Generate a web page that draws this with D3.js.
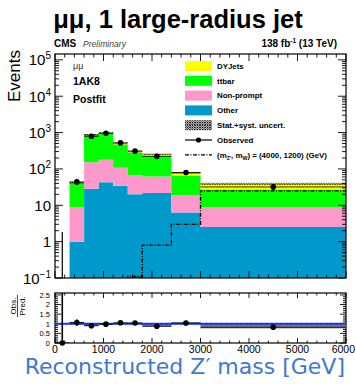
<!DOCTYPE html>
<html><head><meta charset="utf-8">
<script src="https://cdn.jsdelivr.net/npm/d3@7"></script>
<style>body{margin:0;background:#fff}svg{display:block}</style>
</head><body>
<script>
// Reconstructed Z' mass bins (GeV)
const binEdges  = [0, 300, 600, 900, 1200, 1500, 1800, 2400, 3000, 6000];
// Postfit background yields per bin
const otherBkg  = [0, 1.0, 28.7, 43, 34.7, 20, 21.7, 6.3, 2.54];
const nonPrompt = [0, 8.0, 124, 136, 73, 48, 40, 12.5, 6.5];
const ttbar     = [0, 32, 712, 776, 362, 217, 172, 47, 18];
const dyJets    = [0, 0.5, 15, 20, 30, 15, 21, 11, 12];
// Relative stat.+syst. uncertainty on the total prediction
const bkgUnc    = [0, 0.05, 0.04, 0.04, 0.04, 0.04, 0.04, 0.05, 0.06];
// Observed events
const observed  = [0, 44, 792, 955, 525, 312, 222, 80, 32];
// Signal (m_Z', m_W) = (4000, 1200) GeV
const signal    = [0, 0, 0, 0, 0, 0.11, 0.8, 3.0, 25];
// Uncertainty band in the ratio panel
const ratioBandLo = [null, 0.97, 0.88, 0.96, 0.97, 0.97, 0.85, 0.98, 0.76];
const ratioBandHi = [null, 1.10, 1.00, 1.02, 1.04, 1.05, 0.98, 1.06, 0.99];

const yDecades = [-1, 0, 1, 2, 3, 4, 5];
const xTickLabels = [0, 1000, 2000, 3000, 4000, 5000, 6000];
const ratioTickLabels = ["0", "0.5", "1", "1.5", "2", "2.5"];

const legendItems = [
  {label: "DYJets", kind: "box", color: "#ffff00"},
  {label: "ttbar", kind: "box", color: "#00ff00"},
  {label: "Non-prompt", kind: "box", color: "#ff99cc"},
  {label: "Other", kind: "box", color: "#0099cc"},
  {label: "Stat.+syst. uncert.", kind: "hatch"},
  {label: "Observed", kind: "data"},
  {label: "signal", kind: "signal"}
];

const W = 356, H = 384;
const FONT = "'Liberation Sans', Arial, Helvetica, sans-serif";
const svg = d3.select("body").append("svg").attr("width", W).attr("height", H)
  .style("font-family", FONT);

const M = {l: 55, r: 346, t: 54, b: 278};
const R = {t: 293, b: 343};
const yMin = 0.1;

const x = d3.scaleLinear().domain([0, 6000]).range([M.l, M.r]);
const y = d3.scaleLog().domain([yMin, 1.45e5]).range([M.b, M.t]).clamp(true);
const yv = v => y(Math.max(v, yMin));
const yr = d3.scaleLinear().domain([0, 2.6]).range([R.b, R.t]);

const defs = svg.append("defs");
defs.append("clipPath").attr("id", "clipMain").append("rect")
  .attr("x", M.l).attr("y", M.t).attr("width", M.r - M.l).attr("height", M.b - M.t);
defs.append("clipPath").attr("id", "clipRatio").append("rect")
  .attr("x", M.l).attr("y", R.t).attr("width", M.r - M.l).attr("height", R.b - R.t);
const pat = defs.append("pattern").attr("id", "hatch").attr("patternUnits", "userSpaceOnUse")
  .attr("width", 2.5).attr("height", 2.5);
pat.append("path").attr("d", "M0,0L2.5,2.5M2.5,0L0,2.5").attr("stroke", "#000").attr("stroke-width", 0.8);

const nBins = binEdges.length - 1;
const bins = d3.range(nBins).map(i => ({
  i, x0: binEdges[i], x1: binEdges[i + 1], xc: (binEdges[i] + binEdges[i + 1]) / 2,
  other: otherBkg[i], nonprompt: nonPrompt[i], ttbar: ttbar[i], dy: dyJets[i]
}));
const keys = ["other", "nonprompt", "ttbar", "dy"];
const colors = {other: "#0099cc", nonprompt: "#ff99cc", ttbar: "#00ff00", dy: "#ffff00"};
const series = d3.stack().keys(keys)(bins);
const total = bins.map(b => keys.reduce((s, k) => s + b[k], 0));

// ---------- main panel ----------
const gMain = svg.append("g").attr("clip-path", "url(#clipMain)");
// each stacked component drawn as one step-shaped area
const stepArea = d3.area().x(p => p[0]).y0(p => p[1]).y1(p => p[2]);
series.forEach(s => {
  const pts = [];
  s.forEach(d => {
    pts.push([x(d.data.x0), yv(d[0]), yv(d[1])], [x(d.data.x1), yv(d[0]), yv(d[1])]);
  });
  gMain.append("path").attr("d", stepArea(pts)).attr("fill", colors[s.key]);
});
// uncertainty band
gMain.append("g").selectAll("rect").data(bins.filter(b => total[b.i] > 0)).join("rect")
  .attr("x", b => x(b.x0)).attr("width", b => x(b.x1) - x(b.x0))
  .attr("y", b => yv(total[b.i] * (1 + bkgUnc[b.i])))
  .attr("height", b => yv(total[b.i] * (1 - bkgUnc[b.i])) - yv(total[b.i] * (1 + bkgUnc[b.i])))
  .attr("fill", "url(#hatch)");

// signal step line
const sigPts = [];
bins.forEach(b => {
  if (signal[b.i] > 0) {
    if (!sigPts.length) sigPts.push([x(b.x0), M.b + 2]);
    sigPts.push([x(b.x0), yv(signal[b.i])], [x(b.x1), yv(signal[b.i])]);
  }
});
gMain.append("path").attr("d", d3.line()(sigPts)).attr("fill", "none")
  .attr("stroke", "#000").attr("stroke-width", 1.3).attr("stroke-dasharray", "4,1.5,1,1.5");

// observed data
const gObs = gMain.append("g");
bins.forEach(b => {
  const n = observed[b.i];
  const up = n > 0 ? n + Math.sqrt(n) : 1.84;
  const dn = n > 0 ? n - Math.sqrt(n) : yMin;
  gObs.append("line").attr("x1", x(b.xc)).attr("x2", x(b.xc))
    .attr("y1", yv(dn)).attr("y2", yv(up)).attr("stroke", "#000").attr("stroke-width", 1.2);
  if (n > 0) {
    gObs.append("line").attr("x1", x(b.x0)).attr("x2", x(b.x1))
      .attr("y1", yv(n)).attr("y2", yv(n)).attr("stroke", "#000").attr("stroke-width", 0.8);
    gObs.append("circle").attr("cx", x(b.xc)).attr("cy", yv(n)).attr("r", 2.8).attr("fill", "#000");
  }
});

// frames
function frame(top, bottom) {
  svg.append("rect").attr("x", M.l).attr("y", top).attr("width", M.r - M.l)
    .attr("height", bottom - top).attr("fill", "none").attr("stroke", "#000").attr("stroke-width", 1.2);
}
frame(M.t, M.b);
frame(R.t, R.b);

function xTicks(top, bottom, majLen, minLen) {
  const g = svg.append("g").attr("stroke", "#000").attr("stroke-width", 0.9);
  d3.range(0, 6001, 200).forEach(v => {
    const len = v % 1000 === 0 ? majLen : minLen;
    g.append("line").attr("x1", x(v)).attr("x2", x(v)).attr("y1", bottom).attr("y2", bottom - len);
    g.append("line").attr("x1", x(v)).attr("x2", x(v)).attr("y1", top).attr("y2", top + len);
  });
}
xTicks(M.t, M.b, 7, 3.5);
xTicks(R.t, R.b, 5, 2.5);

// log y ticks
const gy = svg.append("g").attr("stroke", "#000").attr("stroke-width", 0.9);
y.ticks().forEach(v => {
  const major = Math.abs(Math.log10(v) - Math.round(Math.log10(v))) < 1e-9;
  const len = major ? 8 : 4;
  gy.append("line").attr("x1", M.l).attr("x2", M.l + len).attr("y1", y(v)).attr("y2", y(v));
  gy.append("line").attr("x1", M.r).attr("x2", M.r - len).attr("y1", y(v)).attr("y2", y(v));
});
yDecades.forEach(p => {
  const t = svg.append("text").attr("x", 51).attr("y", y(Math.pow(10, p)) + 5.5)
    .attr("text-anchor", "end").attr("font-size", 15);
  if (p === 0) t.text("1");
  else if (p === 1) t.text("10");
  else {
    t.append("tspan").text("10");
    t.append("tspan").attr("font-size", 10).attr("dy", -6).text(p < 0 ? "\u22121" : String(p));
  }
});

// ratio y ticks
const gry = svg.append("g").attr("stroke", "#000").attr("stroke-width", 0.9);
d3.range(0, 2.51, 0.1).forEach((v, k) => {
  const len = k % 5 === 0 ? 6 : 3;
  gry.append("line").attr("x1", M.l).attr("x2", M.l + len).attr("y1", yr(v)).attr("y2", yr(v));
  gry.append("line").attr("x1", M.r).attr("x2", M.r - len).attr("y1", yr(v)).attr("y2", yr(v));
});
ratioTickLabels.forEach(s => {
  svg.append("text").attr("x", 50).attr("y", yr(+s) + 2.8).attr("text-anchor", "end")
    .attr("font-size", 7.5).text(s);
});
xTickLabels.forEach(v => {
  const t = svg.append("text").attr("x", x(v)).attr("y", 352.5).attr("text-anchor", "middle")
    .attr("font-size", 10.5).text(v);
  // keep the last label inside the page
  const w = t.node().getComputedTextLength();
  if (x(v) + w / 2 > W - 1) t.attr("x", W - 1 - w / 2);
});

// ---------- ratio panel ----------
const gR = svg.append("g").attr("clip-path", "url(#clipRatio)");
gR.selectAll("rect.band").data(bins.filter(b => ratioBandLo[b.i] !== null)).join("rect")
  .attr("x", b => x(b.x0)).attr("width", b => x(b.x1) - x(b.x0))
  .attr("y", b => yr(ratioBandHi[b.i]))
  .attr("height", b => yr(ratioBandLo[b.i]) - yr(ratioBandHi[b.i]))
  .attr("fill", "#7a7a7a");
gR.append("line").attr("x1", M.l).attr("x2", M.r).attr("y1", yr(1)).attr("y2", yr(1))
  .attr("stroke", "#1f3cff").attr("stroke-width", 2);
gR.append("line").attr("x1", M.l).attr("x2", M.r).attr("y1", yr(1)).attr("y2", yr(1))
  .attr("stroke", "#10206e").attr("stroke-width", 1).attr("stroke-dasharray", "3,2").attr("opacity", 0.6);
bins.forEach(b => {
  const n = observed[b.i], t = total[b.i];
  const r = t > 0 ? n / t : 0;
  const eU = t > 0 ? (n > 0 ? Math.sqrt(n) : 1.84) / t : 10;
  const eD = t > 0 && n > 0 ? Math.sqrt(n) / t : 0;
  gR.append("line").attr("x1", x(b.xc)).attr("x2", x(b.xc))
    .attr("y1", yr(r - eD)).attr("y2", yr(r + eU)).attr("stroke", "#000").attr("stroke-width", 1.6);
  gR.append("line").attr("x1", x(b.x0)).attr("x2", x(b.x1))
    .attr("y1", yr(r)).attr("y2", yr(r)).attr("stroke", "#000").attr("stroke-width", 0.8);
});
bins.forEach(b => {
  const n = observed[b.i], t = total[b.i];
  const r = t > 0 ? n / t : 0;
  svg.append("circle").attr("cx", x(b.xc)).attr("cy", yr(r)).attr("r", 2.8).attr("fill", "#000");
});

// ---------- legend ----------
const lg = svg.append("g");
legendItems.forEach((it, k) => {
  const cy = 66 + k * 14.8;
  const bx = 185, bw = 27, bh = 10;
  if (it.kind === "box") {
    lg.append("rect").attr("x", bx).attr("y", cy - bh / 2).attr("width", bw).attr("height", bh).attr("fill", it.color);
  } else if (it.kind === "hatch") {
    lg.append("rect").attr("x", bx).attr("y", cy - bh / 2).attr("width", bw).attr("height", bh).attr("fill", "url(#hatch)");
  } else if (it.kind === "data") {
    lg.append("line").attr("x1", bx).attr("x2", bx + bw).attr("y1", cy).attr("y2", cy).attr("stroke", "#000").attr("stroke-width", 1.2);
    lg.append("circle").attr("cx", bx + bw / 2).attr("cy", cy).attr("r", 2.6).attr("fill", "#000");
  } else {
    lg.append("line").attr("x1", bx).attr("x2", bx + bw).attr("y1", cy).attr("y2", cy).attr("stroke", "#000")
      .attr("stroke-width", 1.3).attr("stroke-dasharray", "4,1.5,1,1.5");
  }
  const t = lg.append("text").attr("x", 217).attr("y", cy + 2.8).attr("font-size", 7.9).attr("font-weight", "bold");
  if (it.kind === "signal") {
    t.append("tspan").text("(m");
    t.append("tspan").attr("font-size", 5.2).attr("dy", 2).text("Z'");
    t.append("tspan").attr("dy", -2).text(", m");
    t.append("tspan").attr("font-size", 5.2).attr("dy", 2).text("W");
    t.append("tspan").attr("dy", -2).text(") = (4000, 1200) (GeV)");
  } else t.text(it.label);
});

// ---------- labels ----------
svg.append("text").attr("x", 178).attr("y", 28).attr("text-anchor", "middle")
  .attr("font-size", 25.5).attr("font-weight", "bold").text("\u03bc\u03bc, 1 large-radius jet");
svg.append("text").attr("x", 54).attr("y", 47).attr("font-size", 10).attr("font-weight", "bold").text("CMS");
svg.append("text").attr("x", 83).attr("y", 47).attr("font-size", 8.6).attr("font-style", "italic")
  .attr("fill", "#444").text("Preliminary");
const lumi = svg.append("text").attr("x", 337).attr("y", 47).attr("text-anchor", "end")
  .attr("font-size", 10).attr("font-weight", "bold");
lumi.append("tspan").text("138 fb");
lumi.append("tspan").attr("font-size", 6.5).attr("dy", -4).text("-1");
lumi.append("tspan").attr("dy", 4).text(" (13 TeV)");

svg.append("text").attr("x", 73).attr("y", 69).attr("font-size", 9).attr("fill", "#333").text("\u03bc\u03bc");
svg.append("text").attr("x", 73).attr("y", 84.5).attr("font-size", 10.5).attr("font-weight", "bold").text("1AK8");
svg.append("text").attr("x", 73).attr("y", 102.5).attr("font-size", 10.5).attr("font-weight", "bold").text("Postfit");

svg.append("text").attr("transform", "translate(20,50) rotate(-90)").attr("text-anchor", "end")
  .attr("font-size", 17).text("Events");

// Obs./Pred. fraction title
const fr = svg.append("g").attr("transform", "translate(17.5,306) rotate(-90)");
fr.append("text").attr("x", 0).attr("y", -1.5).attr("text-anchor", "middle").attr("font-size", 8).text("Obs.");
fr.append("line").attr("x1", -11).attr("x2", 11).attr("y1", 0).attr("y2", 0).attr("stroke", "#000").attr("stroke-width", 0.7);
fr.append("text").attr("x", 0).attr("y", 7).attr("text-anchor", "middle").attr("font-size", 8).text("Pred.");

svg.append("text").attr("x", 345).attr("y", 374).attr("text-anchor", "end")
  .attr("font-family", "'DejaVu Sans', sans-serif").attr("font-size", 22).attr("fill", "#3c78d8")
  .text("Reconstructed Z\u2032 mass [GeV]");
</script>
</body></html>
